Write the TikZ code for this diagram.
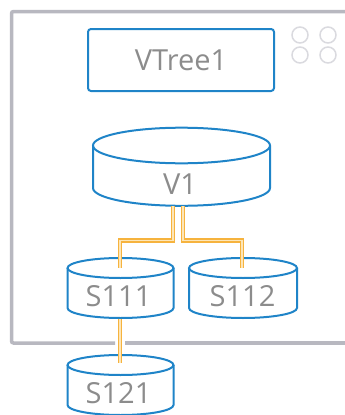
\documentclass[tikz,border=0pt]{standalone}
\usepackage{fontspec}
\setmainfont{Open Sans}
\usetikzlibrary{calc}
\definecolor{vblue}{HTML}{1F84C8}
\definecolor{vgray}{HTML}{8C8C8C}
\definecolor{vframe}{HTML}{B8B8C0}
\definecolor{vdots}{HTML}{DADADF}
\definecolor{vorange}{HTML}{F6B33E}
\definecolor{vpale}{HTML}{FDE6B8}
\tikzset{
  drum/.style={draw=vblue,line width=2pt},
  lbl/.style={text=vgray,font=\fontsize{29}{30}\selectfont,anchor=base,inner sep=0pt},
  link/.style={draw=vorange,line width=1.2pt,double=vpale,double distance=1.8pt},
}
% cylinder: cx, top y, bottom y, x radius, y radius
\newcommand{\drum}[5]{%
  \draw[drum] (#1-#4,#2) -- (#1-#4,#3)
    arc[start angle=180,end angle=0,x radius=#4,y radius=#5] -- (#1+#4,#2);
  \draw[drum] (#1,#2) ellipse[x radius=#4,y radius=#5];}
\begin{document}
\begin{tikzpicture}[x=1pt,y=-1pt]
\useasboundingbox (0,0) rectangle (345,415);
% frame
\draw [vframe,line width=3.5pt,rounded corners=2pt] (125,343) -- (352,343);
\draw [vframe,line width=3.5pt,rounded corners=2pt] (115,343) -- (11.5,343) -- (11.5,11.5) -- (352,11.5);
\foreach \x in {300,328}
  \foreach \y in {35,55}
    \draw [vdots,line width=1.5pt] (\x,\y) circle (8);
% title box
\node [draw=vblue,line width=2pt,rounded corners=3pt,minimum width=186pt,minimum height=62pt,
  text=vgray,font=\fontsize{29}{30}\selectfont,inner sep=0pt] (vtree) at (181,60) {VTree1};
% volumes
\drum{181.5}{145.5}{188}{88.5}{17.8}
\drum{120.5}{268}{308}{53}{10}
\drum{243}{268}{308}{54}{10}
\drum{120.5}{365}{405}{53}{10}
\node [lbl] (v1) at (180,194) {V1};
\node [lbl] (s111) at (118.5,306.5) {S111};
\node [lbl] (s112) at (242.5,306.5) {S112};
\node [lbl] (s121) at (118.5,403) {S121};
% anchors for links
\coordinate (v1l) at (173,206);
\coordinate (v1r) at (183,206);
\coordinate (s111t) at (120,268);
\coordinate (s112t) at (242,268);
\coordinate (s111b) at (120,319);
\coordinate (s121t) at (120,363);
\draw [link] (v1l) -- ++(0,34.5) -| (s111t);
\draw [link] (v1r) -- ++(0,34.5) -| (s112t);
\draw [link] (s111b) -- (s121t);
\end{tikzpicture}
\end{document}
